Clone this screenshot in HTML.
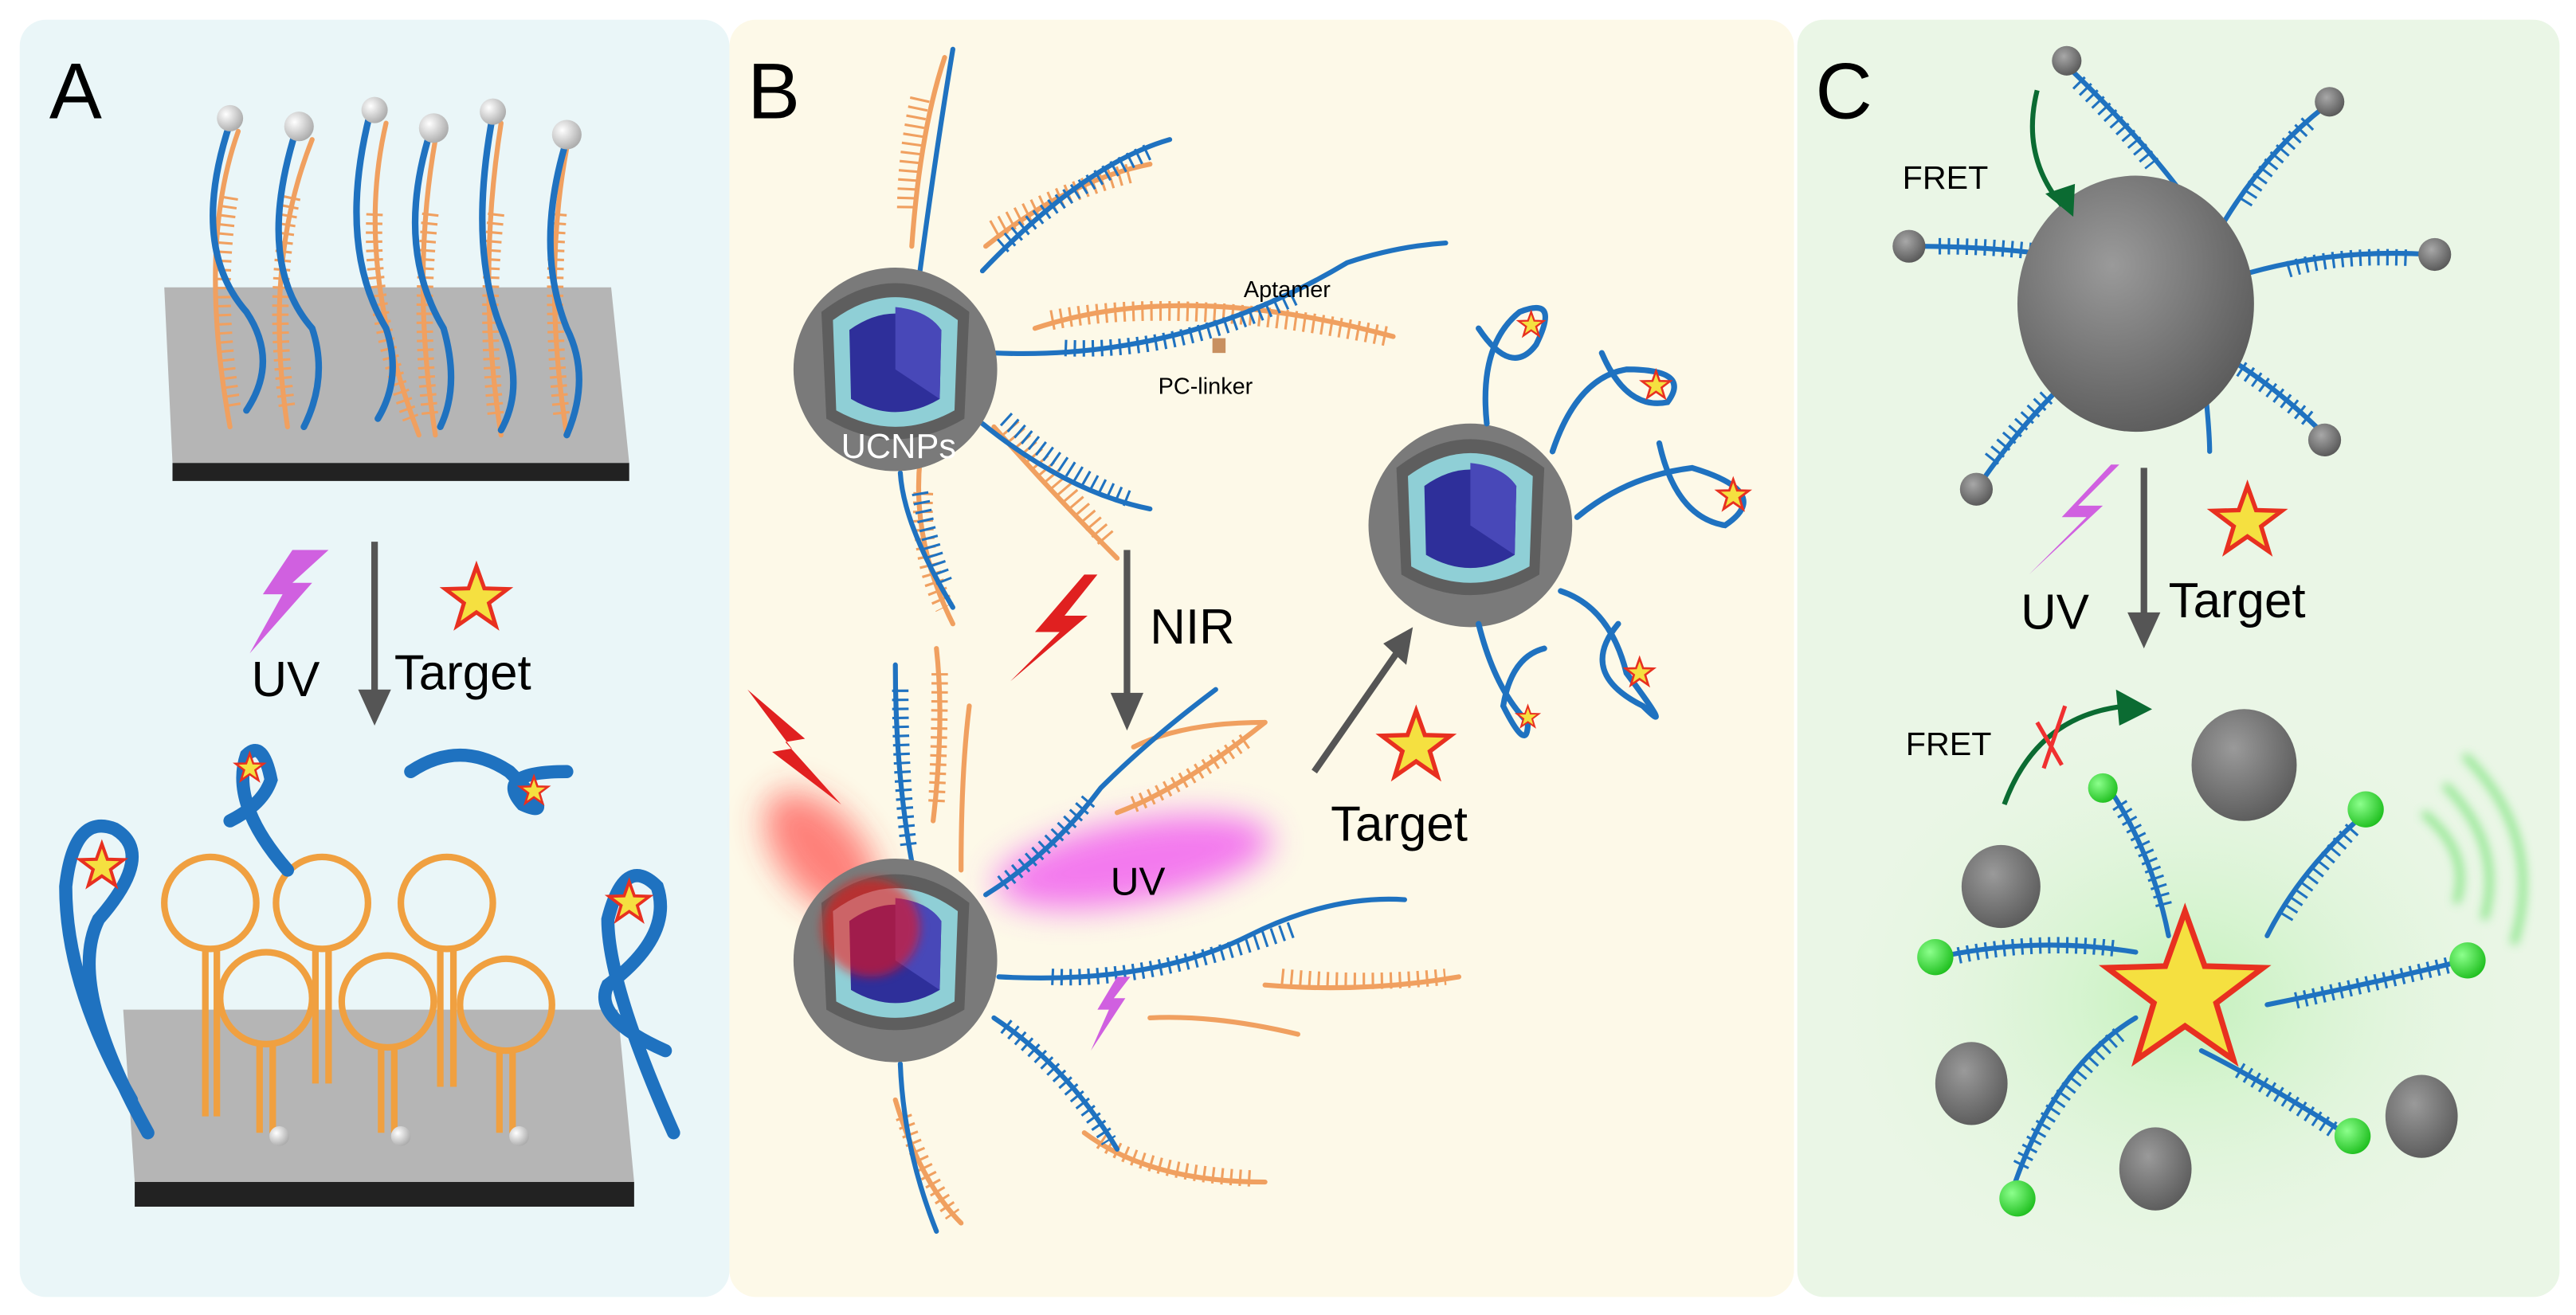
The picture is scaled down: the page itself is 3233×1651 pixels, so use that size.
<!DOCTYPE html>
<html><head><meta charset="utf-8"><style>
html,body{margin:0;padding:0;background:#fff;}
svg{display:block;}
text{font-family:"Liberation Sans",sans-serif;}
.t{stroke-linecap:butt !important;}
</style></head><body>
<svg width="3233" height="1651" viewBox="0 0 1568 801" preserveAspectRatio="none" xmlns="http://www.w3.org/2000/svg">
<defs>
<radialGradient id="gs" cx="40%" cy="35%" r="70%"><stop offset="0" stop-color="#a8a8a8"/><stop offset="1" stop-color="#555"/></radialGradient>
<radialGradient id="gn" cx="35%" cy="35%" r="70%"><stop offset="0" stop-color="#8cff8c"/><stop offset="1" stop-color="#1fbf1f"/></radialGradient>
<radialGradient id="gw" cx="35%" cy="35%" r="70%"><stop offset="0" stop-color="#fff"/><stop offset="1" stop-color="#aaa"/></radialGradient>
<radialGradient id="gr" cx="40%" cy="35%" r="70%"><stop offset="0" stop-color="#9a9a9a"/><stop offset="1" stop-color="#5a5a5a"/></radialGradient>
<radialGradient id="glow" cx="50%" cy="50%" r="50%"><stop offset="0" stop-color="#b9f0b0" stop-opacity=".8"/><stop offset="1" stop-color="#eaf6e6" stop-opacity="0"/></radialGradient>
<filter id="bl" x="-50%" y="-50%" width="200%" height="200%"><feGaussianBlur stdDeviation="10"/></filter>
<filter id="bl2" x="-50%" y="-50%" width="200%" height="200%"><feGaussianBlur stdDeviation="3"/></filter>
<g id="ucnp">
<circle r="62" fill="#7a7a7a"/>
<path d="M-45,-35 Q0,-70 45,-35 L42,30 Q0,55 -42,30Z" fill="#5e5e5e"/>
<path d="M-38,-30 Q0,-58 38,-30 L36,25 Q0,45 -36,25Z" fill="#8fcfd6"/>
<path d="M-28,-24 Q0,-44 28,-24 L27,18 Q0,34 -27,18Z" fill="#2e2f9a"/>
<path d="M0,0 L0,-38 Q20,-36 28,-24 L27,18Z" fill="#4848b8"/>
</g>
<g id="rock"><ellipse rx="1" ry="1.1" fill="url(#gr)"/></g>
<polygon id="star" points="0,-1 0.24,-0.33 0.95,-0.31 0.38,0.12 0.59,0.81 0,0.4 -0.59,0.81 -0.38,0.12 -0.95,-0.31 -0.24,-0.33"/>
</defs>

<rect x="12" y="12" width="432" height="778" rx="16" fill="#eaf6f8"/>
<rect x="444" y="12" width="648" height="778" rx="16" fill="#fdf9e8"/>
<rect x="1094" y="12" width="464" height="778" rx="16" fill="#eaf6e6"/>

<!-- Panel A -->
<text x="30" y="72" font-size="48">A</text>
<polygon points="100,175 372,175 383,282 105,282" fill="#b5b5b5"/>
<polygon points="105,282 383,282 383,293 105,293" fill="#222"/>
<g fill="none" stroke-linecap="round">
<g stroke="#f0a060" stroke-width="3">
<path d="M145,80 Q120,150 140,260"/><path d="M190,85 Q160,160 175,260"/><path d="M235,75 Q215,160 255,265"/><path d="M265,85 Q250,170 265,265"/><path d="M305,75 Q290,170 305,265"/><path d="M345,90 Q330,170 345,265"/>
</g>
<g class="t" stroke="#f0a060" stroke-width="10" stroke-dasharray="1.5 4">
<path d="M140,120 Q130,180 142,250"/><path d="M178,120 Q165,180 175,250"/><path d="M228,130 Q225,190 250,255"/><path d="M262,130 Q255,190 262,255"/><path d="M302,130 Q295,190 302,255"/><path d="M340,130 Q335,190 342,255"/>
</g>
<g stroke="#1f72c0" stroke-width="4">
<path d="M140,75 Q115,150 150,190 Q170,220 150,250"/><path d="M180,80 Q155,160 190,200 Q200,230 185,260"/><path d="M225,70 Q205,150 235,200 Q245,230 230,255"/><path d="M262,80 Q240,150 270,200 Q280,235 268,260"/><path d="M300,70 Q285,150 305,200 Q320,235 305,262"/><path d="M345,85 Q325,150 345,200 Q360,230 345,265"/>
</g>
</g>
<g fill="url(#gw)"><circle cx="140" cy="72" r="8"/><circle cx="182" cy="77" r="9"/><circle cx="228" cy="67" r="8"/><circle cx="264" cy="78" r="9"/><circle cx="300" cy="68" r="8"/><circle cx="345" cy="82" r="9"/></g>
<line x1="228" y1="330" x2="228" y2="428" stroke="#555" stroke-width="4"/>
<polygon points="218,420 238,420 228,442" fill="#555"/>
<polygon points="178,335 160,362 172,362 152,398 190,355 178,355 200,335" fill="#d060e0"/>
<use href="#star" transform="translate(290,365) scale(20)" fill="#f5e040" stroke="#e83020" stroke-width=".12"/>
<text x="153" y="424" font-size="30">UV</text>
<text x="240" y="420" font-size="30">Target</text>
<polygon points="75,615 376,615 386,720 82,720" fill="#b5b5b5"/>
<polygon points="82,720 386,720 386,735 82,735" fill="#222"/>
<g fill="none" stroke="#f0a040" stroke-width="4">
<circle cx="128" cy="550" r="28"/><circle cx="196" cy="550" r="28"/><circle cx="272" cy="550" r="28"/>
<circle cx="162" cy="608" r="28"/><circle cx="236" cy="610" r="28"/><circle cx="308" cy="612" r="28"/>
<path d="M125,578 V680 M132,578 V680 M192,578 V660 M200,578 V660 M268,578 V662 M276,578 V662"/>
<path d="M158,636 V690 M166,636 V690 M232,638 V690 M240,638 V690 M304,640 V690 M312,640 V690"/>
</g>
<g fill="url(#gw)"><circle cx="170" cy="692" r="6"/><circle cx="244" cy="692" r="6"/><circle cx="316" cy="692" r="6"/></g>
<g fill="none" stroke="#1f72c0" stroke-width="8" stroke-linecap="round">
<path d="M80,670 Q40,600 40,540 Q45,495 70,505 Q95,520 60,560 Q40,600 90,690"/>
<path d="M175,530 Q140,490 150,460 Q160,450 165,475 Q160,490 140,500"/>
<path d="M250,470 Q280,450 310,470 Q340,500 318,490 Q300,470 345,470"/>
<path d="M410,690 Q370,600 370,560 Q380,520 400,540 Q410,570 370,600 Q360,620 405,640"/>
</g>
<g stroke="#e83020" stroke-width=".14" fill="#f5e040">
<use href="#star" transform="translate(62,528) scale(14)"/><use href="#star" transform="translate(152,468) scale(9)"/>
<use href="#star" transform="translate(325,482) scale(9)"/><use href="#star" transform="translate(383,550) scale(13)"/>
</g>

<!-- Panel B -->
<text x="455" y="72" font-size="48">B</text>
<g fill="none" stroke-linecap="round">
<g stroke="#f0a060" stroke-width="3">
<path d="M575,35 Q560,80 555,150"/><path d="M600,150 Q650,110 700,100"/><path d="M630,200 Q720,170 848,205"/><path d="M605,260 Q640,300 680,340"/><path d="M560,280 Q555,330 580,380"/>
</g>
<g class="t" stroke="#f0a060" stroke-width="12" stroke-dasharray="1.5 4">
<path d="M560,60 Q552,95 552,130"/><path d="M605,140 Q650,115 690,105"/><path d="M640,195 Q720,180 845,205"/><path d="M615,260 Q645,295 675,330"/><path d="M562,300 Q560,340 575,370"/>
</g>
<g stroke="#1f72c0" stroke-width="3">
<path d="M580,30 Q570,90 560,165"/><path d="M598,165 Q660,100 712,85"/><path d="M605,215 Q720,220 820,160 Q850,150 880,148"/><path d="M598,258 Q650,300 700,310"/><path d="M548,288 Q550,320 580,370"/>
</g>
<g class="t" stroke="#1f72c0" stroke-width="10" stroke-dasharray="1.5 4">
<path d="M648,212 Q720,215 790,180"/><path d="M612,255 Q650,290 690,305"/><path d="M560,300 Q565,330 575,355"/><path d="M610,150 Q650,115 700,92"/>
</g>
</g>
<use href="#ucnp" x="545" y="225"/>
<text x="512" y="279" font-size="21" fill="#fff">UCNPs</text>
<text x="757" y="181" font-size="14">Aptamer</text>
<text x="705" y="240" font-size="14">PC-linker</text>
<rect x="738" y="206" width="8" height="9" fill="#c89060"/>

<line x1="686" y1="335" x2="686" y2="430" stroke="#555" stroke-width="4"/>
<polygon points="676,422 696,422 686,445" fill="#555"/>
<text x="700" y="392" font-size="30">NIR</text>
<polygon points="660,350 630,385 645,385 615,415 662,375 648,375 668,350" fill="#e02020"/>
<polygon points="455,420 490,450 478,452 512,490 470,458 482,456" fill="#e02020"/>
<ellipse cx="500" cy="520" rx="45" ry="25" fill="#ff3030" opacity=".6" filter="url(#bl)" transform="rotate(50 500 520)"/>
<ellipse cx="690" cy="525" rx="85" ry="25" fill="#f050f0" opacity=".75" filter="url(#bl)" transform="rotate(-10 690 525)"/>
<g fill="none" stroke-linecap="round">
<g stroke="#f0a060" stroke-width="3"><path d="M570,395 Q575,440 568,500"/><path d="M590,430 Q585,470 585,530"/><path d="M680,495 Q720,480 770,440"/><path d="M690,455 Q720,440 770,440"/><path d="M770,600 Q830,605 888,595"/><path d="M700,620 Q740,618 790,630"/><path d="M545,670 Q560,720 585,745"/><path d="M660,690 Q700,720 770,720"/></g>
<g class="t" stroke="#f0a060" stroke-width="10" stroke-dasharray="1.5 4"><path d="M572,410 Q572,450 570,490"/><path d="M690,490 Q720,478 760,450"/><path d="M780,595 Q830,600 880,595"/><path d="M550,680 Q562,715 580,740"/><path d="M670,695 Q700,715 765,718"/></g>
<g stroke="#1f72c0" stroke-width="3"><path d="M545,405 Q545,470 555,525"/><path d="M600,545 Q640,520 670,480 Q700,450 740,420"/><path d="M608,595 Q700,600 760,570 Q810,545 855,548"/><path d="M605,620 Q650,650 680,700"/><path d="M548,648 Q550,700 570,750"/></g>
<g class="t" stroke="#1f72c0" stroke-width="10" stroke-dasharray="1.5 4"><path d="M548,420 Q548,470 553,515"/><path d="M610,538 Q640,515 665,485"/><path d="M640,595 Q700,598 790,565"/><path d="M612,625 Q650,655 675,695"/></g>
</g>
<use href="#ucnp" x="545" y="585"/>
<circle cx="530" cy="565" r="30" fill="#ff1010" opacity=".55" filter="url(#bl2)"/>
<polygon points="680,595 668,615 675,615 664,640 685,608 678,608 688,595" fill="#d060e0"/>
<text x="676" y="545" font-size="24">UV</text>
<line x1="800" y1="470" x2="850" y2="398" stroke="#555" stroke-width="4"/>
<polygon points="842,392 860,382 856,405" fill="#555"/>
<use href="#star" transform="translate(862,455) scale(22)" fill="#f5e040" stroke="#e83020" stroke-width=".12"/>
<text x="810" y="512" font-size="30">Target</text>
<use href="#ucnp" x="895" y="320"/>
<g fill="none" stroke="#1f72c0" stroke-width="3.5" stroke-linecap="round">
<path d="M905,258 Q900,210 925,190 Q950,180 935,210 Q920,230 900,200"/>
<path d="M945,275 Q960,230 990,225 Q1030,225 1015,245 Q990,250 975,215"/>
<path d="M960,315 Q990,290 1030,285 Q1080,300 1050,320 Q1020,315 1010,270"/>
<path d="M950,360 Q980,370 990,410 Q1020,450 1000,430 Q960,410 985,380"/>
<path d="M900,380 Q910,420 930,440 Q930,460 915,430 Q920,400 940,395"/>
</g>
<g stroke="#e83020" stroke-width=".14" fill="#f5e040">
<use href="#star" transform="translate(932,198) scale(8)"/><use href="#star" transform="translate(1008,235) scale(9)"/><use href="#star" transform="translate(1055,302) scale(10)"/><use href="#star" transform="translate(998,410) scale(9)"/><use href="#star" transform="translate(930,437) scale(7)"/>
</g>

<!-- Panel C -->
<text x="1105" y="72" font-size="48">C</text>
<g fill="none" stroke-linecap="round">
<g stroke="#1f72c0" stroke-width="3"><path d="M1258,40 Q1300,80 1330,120"/><path d="M1165,150 Q1240,150 1300,165"/><path d="M1415,65 Q1370,100 1340,160"/><path d="M1480,155 Q1400,150 1330,180"/><path d="M1205,295 Q1250,230 1300,200"/><path d="M1415,265 Q1370,220 1320,200"/><path d="M1340,215 Q1345,260 1345,275"/></g>
<g class="t" stroke="#1f72c0" stroke-width="10" stroke-dasharray="1.5 4"><path d="M1265,50 Q1290,75 1310,100"/><path d="M1180,150 Q1230,150 1270,158"/><path d="M1405,75 Q1380,100 1365,125"/><path d="M1465,157 Q1420,155 1390,165"/><path d="M1212,280 Q1240,245 1265,225"/><path d="M1405,255 Q1380,235 1360,222"/></g>
</g>
<g transform="translate(1300,185)"><ellipse rx="72" ry="78" fill="url(#gr)"/></g>
<g fill="url(#gs)"><circle cx="1258" cy="37" r="9"/><circle cx="1162" cy="150" r="10"/><circle cx="1418" cy="62" r="9"/><circle cx="1482" cy="155" r="10"/><circle cx="1203" cy="298" r="10"/><circle cx="1415" cy="268" r="10"/></g>
<path d="M1240,55 Q1230,95 1255,125" fill="none" stroke="#0b6b32" stroke-width="3"/>
<polygon points="1245,118 1263,112 1262,132" fill="#0b6b32"/>
<text x="1158" y="115" font-size="20">FRET</text>
<line x1="1305" y1="285" x2="1305" y2="380" stroke="#555" stroke-width="4"/>
<polygon points="1295,373 1315,373 1305,395" fill="#555"/>
<polygon points="1285,283 1255,315 1270,315 1235,350 1280,308 1265,308 1290,283" fill="#d060e0"/>
<use href="#star" transform="translate(1368,318) scale(22)" fill="#f5e040" stroke="#e83020" stroke-width=".12"/>
<text x="1230" y="383" font-size="30">UV</text>
<text x="1320" y="376" font-size="30">Target</text>
<ellipse cx="1330" cy="610" rx="230" ry="190" fill="url(#glow)"/>
<path d="M1220,490 Q1240,435 1295,430" fill="none" stroke="#0b6b32" stroke-width="3"/>
<polygon points="1288,420 1310,432 1290,442" fill="#0b6b32"/>
<path d="M1240,440 L1255,466 M1257,430 L1244,468" stroke="#f03030" stroke-width="2.5"/>
<text x="1160" y="460" font-size="20">FRET</text>
<g fill="none" stroke="#66e066" stroke-width="4" opacity=".8" filter="url(#bl2)"><path d="M1475,495 Q1505,520 1495,550"/><path d="M1488,478 Q1525,515 1512,560"/><path d="M1500,460 Q1550,510 1530,575"/></g>
<g fill="none" stroke-linecap="round">
<g stroke="#1f72c0" stroke-width="3"><path d="M1285,482 Q1310,520 1320,570"/><path d="M1440,495 Q1400,530 1380,570"/><path d="M1180,583 Q1240,570 1300,580"/><path d="M1500,585 Q1440,600 1380,612"/><path d="M1225,725 Q1250,650 1300,620"/><path d="M1430,692 Q1380,660 1340,640"/></g>
<g class="t" stroke="#1f72c0" stroke-width="10" stroke-dasharray="1.5 4"><path d="M1290,490 Q1310,520 1318,555"/><path d="M1432,505 Q1405,535 1390,560"/><path d="M1192,582 Q1240,572 1290,578"/><path d="M1490,588 Q1440,600 1395,610"/><path d="M1230,710 Q1255,660 1290,630"/><path d="M1420,688 Q1390,668 1360,650"/></g>
</g>
<use href="#star" transform="translate(1330,605) scale(50)" fill="#f5e040" stroke="#e83020" stroke-width=".07"/>
<g fill="url(#gn)"><circle cx="1280" cy="480" r="9"/><circle cx="1440" cy="493" r="11"/><circle cx="1178" cy="583" r="11"/><circle cx="1502" cy="585" r="11"/><circle cx="1228" cy="730" r="11"/><circle cx="1432" cy="692" r="11"/></g>
<g>
<use href="#rock" transform="translate(1366,466) scale(32,31)"/>
<use href="#rock" transform="translate(1218,540) scale(24,23)"/>
<use href="#rock" transform="translate(1200,660) scale(22,23)"/>
<use href="#rock" transform="translate(1312,712) scale(22,23)"/>
<use href="#rock" transform="translate(1474,680) scale(22,23)"/>
</g>
</svg>
</body></html>
